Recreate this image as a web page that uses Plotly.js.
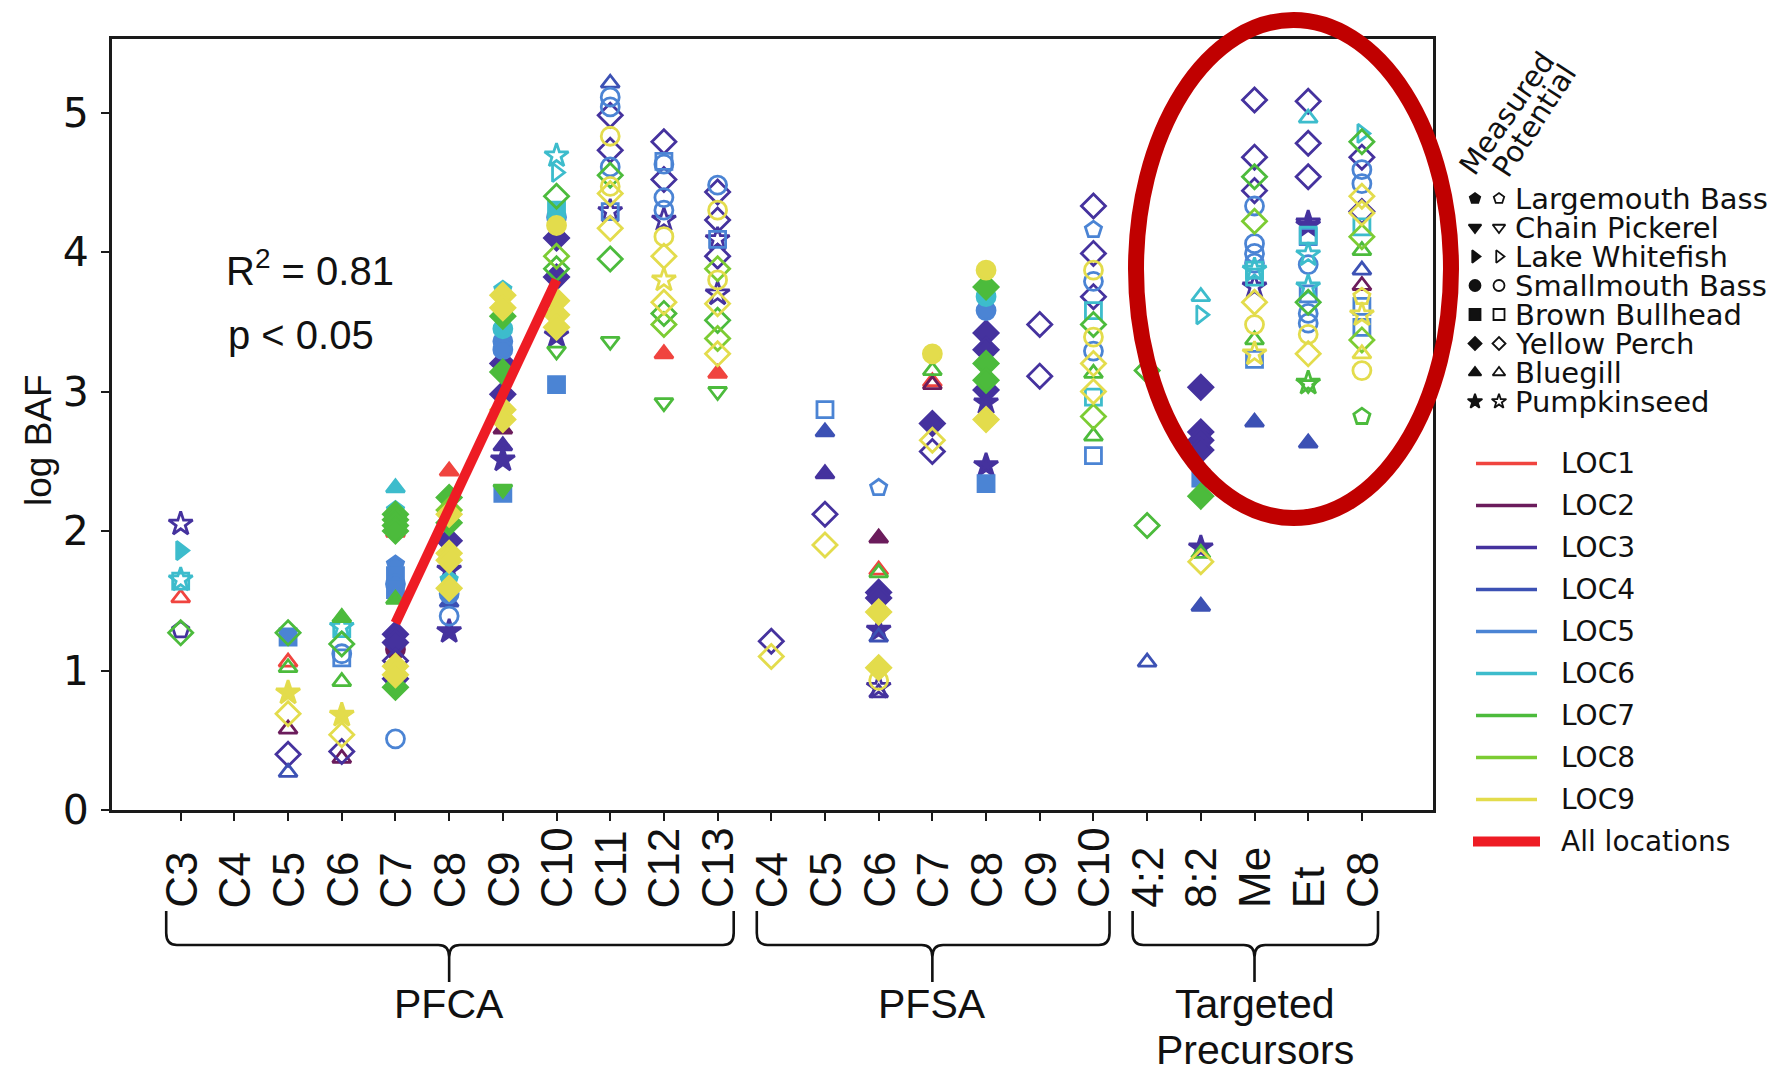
<!DOCTYPE html>
<html>
<head>
<meta charset="utf-8">
<script src="https://cdn.plot.ly/plotly-3.0.1.min.js"></script>
<style>html,body{margin:0;padding:0;background:#fff}#chart{width:1778px;height:1074px}</style>
</head>
<body>
<div id="chart"></div>
<script>
// ---------------- DATA ----------------
const categories = ['CA3','CA4','CA5','CA6','CA7','CA8','CA9','CA10','CA11','CA12','CA13',
                    'SA4','SA5','SA6','SA7','SA8','SA9','SA10',
                    'P42','P82','PMe','PEt','PC8'];
const tickLabels = ['C3','C4','C5','C6','C7','C8','C9','C10','C11','C12','C13',
                    'C4','C5','C6','C7','C8','C9','C10',
                    '4:2','8:2','Me','Et','C8'];
const groupNames = ['PFCA','PFSA','Targeted|Precursors'];
const groupFirst = ['CA3','SA4','P42'];
const groupLast  = ['CA13','SA10','PC8'];

const speciesCodes = ['LB','CP','LW','SB','BB','YP','BG','PS'];
const speciesNames = ['Largemouth Bass','Chain Pickerel','Lake Whitefish','Smallmouth Bass',
                      'Brown Bullhead','Yellow Perch','Bluegill','Pumpkinseed'];

const locationNames = ['LOC1','LOC2','LOC3','LOC4','LOC5','LOC6','LOC7','LOC8','LOC9'];
const locationColors = ['#f0443f','#6b1c5c','#45329e','#3c51b4','#4b84d4','#3dbccc','#4cbb3c','#7ccc33','#e3dc4c'];

// points: [category, log BAF, species, m = measured / p = potential]
const LOC1 = [
  ['CA3',1.52,'BG','p'],['CA5',1.06,'BG','p'],['CA7',1.99,'BG','m'],['CA8',2.43,'BG','m'],
  ['CA12',3.27,'BG','m'],['CA13',3.13,'BG','m'],['SA6',1.72,'BG','p'],['SA7',3.07,'BG','p']
];
const LOC2 = [
  ['CA5',0.58,'BG','p'],['CA6',0.37,'BG','p'],['CA7',1.15,'SB','m'],['CA9',2.73,'BG','m'],
  ['SA6',1.95,'BG','m'],['SA7',3.05,'BG','p'],['PC8',3.76,'BG','p']
];
const LOC3 = [
  ['CA3',2.05,'PS','p'],['CA3',1.29,'LB','p'],['CA5',0.40,'YP','p'],['CA6',0.42,'YP','p'],
  ['CA7',1.26,'YP','m'],['CA7',1.20,'YP','m'],['CA7',1.07,'YP','p'],['CA7',0.94,'YP','m'],
  ['CA8',1.93,'YP','m'],['CA8',1.72,'PS','m'],['CA8',1.28,'PS','m'],
  ['CA9',3.20,'YP','m'],['CA9',2.98,'YP','m'],['CA9',2.61,'BG','m'],['CA9',2.51,'PS','m'],
  ['CA10',4.10,'YP','m'],['CA10',3.82,'YP','m'],['CA10',3.40,'PS','m'],
  ['CA11',4.98,'YP','p'],['CA11',4.73,'YP','p'],['CA11',4.29,'PS','p'],
  ['CA12',4.79,'YP','p'],['CA12',4.52,'YP','p'],['CA12',4.23,'PS','p'],
  ['CA13',4.43,'YP','p'],['CA13',4.23,'YP','p'],['CA13',3.97,'YP','p'],['CA13',4.09,'PS','p'],['CA13',3.70,'PS','p'],
  ['SA4',1.21,'YP','p'],['SA5',2.41,'BG','m'],['SA5',2.12,'YP','p'],
  ['SA6',1.56,'YP','m'],['SA6',1.52,'YP','m'],['SA6',1.29,'PS','m'],['SA6',0.88,'PS','p'],['SA6',0.84,'BG','p'],
  ['SA7',2.77,'YP','m'],['SA7',2.57,'YP','p'],
  ['SA8',3.42,'YP','m'],['SA8',3.30,'YP','m'],['SA8',3.01,'YP','m'],['SA8',2.92,'PS','m'],['SA8',2.47,'PS','m'],
  ['SA9',3.48,'YP','p'],['SA9',3.11,'YP','p'],
  ['SA10',4.33,'YP','p'],['SA10',3.99,'YP','p'],['SA10',3.68,'YP','p'],
  ['P82',3.03,'YP','m'],['P82',2.71,'YP','m'],['P82',2.65,'YP','m'],['P82',2.58,'YP','m'],['P82',1.88,'PS','m'],
  ['PMe',5.09,'YP','p'],['PMe',4.68,'YP','p'],['PMe',4.44,'YP','p'],['PMe',3.75,'PS','p'],
  ['PEt',5.08,'YP','p'],['PEt',4.78,'YP','p'],['PEt',4.54,'YP','p'],['PEt',4.21,'PS','p'],['PEt',4.19,'PS','m'],
  ['PC8',4.68,'YP','p'],['PC8',4.29,'YP','p']
];
const LOC4 = [
  ['CA5',0.27,'BG','p'],['CA8',1.49,'BG','m'],['CA11',5.21,'BG','p'],['SA5',2.71,'BG','m'],
  ['SA6',1.24,'BG','p'],['P42',1.06,'BG','p'],['P82',1.46,'BG','m'],['PMe',2.78,'BG','m'],
  ['PEt',2.63,'BG','m'],['PC8',3.87,'BG','p']
];
const LOC5 = [
  ['CA5',1.24,'BB','m'],['CA6',1.09,'BB','p'],['CA6',1.12,'SB','p'],
  ['CA7',1.76,'LB','m'],['CA7',1.68,'BB','m'],['CA7',1.62,'SB','m'],['CA7',1.58,'BB','m'],['CA7',0.51,'SB','p'],
  ['CA8',1.55,'SB','m'],['CA8',1.39,'SB','p'],
  ['CA9',3.36,'SB','m'],['CA9',3.30,'SB','m'],['CA9',2.27,'BB','m'],
  ['CA10',4.25,'SB','m'],['CA10',3.05,'BB','m'],
  ['CA11',5.11,'SB','p'],['CA11',5.04,'SB','p'],['CA11',4.61,'SB','p'],['CA11',4.29,'BB','p'],
  ['CA12',4.65,'BB','p'],['CA12',4.63,'SB','p'],['CA12',4.39,'SB','p'],['CA12',4.30,'SB','p'],
  ['CA13',4.48,'SB','p'],['CA13',4.09,'BB','p'],
  ['SA5',2.87,'BB','p'],['SA6',2.31,'LB','p'],['SA8',3.58,'SB','m'],['SA8',2.34,'BB','m'],
  ['SA10',4.16,'LB','p'],['SA10',3.79,'SB','p'],['SA10',3.29,'SB','p'],['SA10',2.54,'BB','p'],
  ['P82',2.38,'BB','m'],
  ['PMe',4.33,'SB','p'],['PMe',4.06,'SB','p'],['PMe',3.99,'SB','p'],['PMe',3.92,'SB','p'],['PMe',3.23,'BB','p'],
  ['PEt',4.11,'BB','p'],['PEt',3.91,'SB','p'],['PEt',3.70,'BB','p'],['PEt',3.56,'SB','p'],['PEt',3.49,'SB','p'],
  ['PC8',4.59,'SB','p'],['PC8',4.49,'SB','p'],['PC8',3.61,'BB','p'],['PC8',3.46,'BB','p']
];
const LOC6 = [
  ['CA3',1.86,'LW','m'],['CA3',1.64,'BB','p'],['CA3',1.65,'PS','p'],
  ['CA6',1.30,'BB','p'],['CA6',1.31,'PS','p'],
  ['CA7',2.31,'BG','m'],['CA7',2.15,'LB','m'],['CA8',1.65,'LB','m'],
  ['CA9',3.73,'LB','m'],['CA9',3.45,'SB','m'],
  ['CA10',4.69,'PS','p'],['CA10',4.57,'LW','p'],['CA10',4.30,'BB','m'],
  ['SA8',3.68,'SB','m'],['SA10',3.58,'BB','p'],['SA10',2.96,'BB','p'],
  ['P82',3.68,'BG','p'],['P82',3.55,'LW','p'],
  ['PMe',3.87,'BB','p'],['PMe',3.87,'PS','p'],['PMe',3.82,'BB','p'],
  ['PEt',4.96,'BG','p'],['PEt',4.12,'BB','p'],['PEt',3.98,'PS','p'],['PEt',3.75,'PS','p'],
  ['PC8',4.85,'LW','p'],['PC8',4.18,'BB','p']
];
const LOC7 = [
  ['CA3',1.27,'YP','p'],['CA5',1.27,'YP','p'],['CA5',1.02,'BG','p'],
  ['CA6',1.38,'BG','m'],['CA6',1.19,'YP','p'],['CA6',0.92,'BG','p'],
  ['CA7',2.12,'YP','m'],['CA7',2.08,'YP','m'],['CA7',2.04,'YP','m'],['CA7',2.00,'YP','m'],['CA7',1.51,'BG','m'],['CA7',0.88,'YP','m'],
  ['CA8',2.24,'YP','m'],['CA8',2.06,'YP','m'],
  ['CA9',3.54,'YP','m'],['CA9',3.14,'YP','m'],['CA9',2.30,'CP','m'],
  ['CA10',4.40,'YP','p'],['CA10',3.88,'YP','p'],['CA10',3.29,'CP','p'],
  ['CA11',4.55,'YP','p'],['CA11',3.95,'YP','p'],['CA11',3.36,'CP','p'],
  ['CA12',3.56,'YP','p'],['CA12',2.92,'CP','p'],
  ['CA13',3.51,'YP','p'],['CA13',3.00,'CP','p'],
  ['SA6',1.70,'BG','p'],['SA7',3.15,'BG','p'],
  ['SA8',3.75,'YP','m'],['SA8',3.20,'YP','m'],['SA8',3.08,'YP','m'],
  ['SA10',3.48,'YP','p'],['SA10',3.13,'BG','p'],['SA10',2.68,'BG','p'],
  ['P42',2.04,'YP','p'],['P42',3.15,'YP','p'],
  ['P82',2.25,'YP','m'],['P82',1.84,'BG','p'],
  ['PMe',4.54,'YP','p'],['PMe',3.37,'BG','p'],
  ['PEt',3.64,'YP','p'],['PEt',3.06,'PS','p'],['PEt',3.05,'CP','p'],
  ['PC8',4.79,'YP','p'],['PC8',4.01,'BG','p'],['PC8',2.82,'LB','p']
];
const LOC8 = [
  ['CA8',2.15,'YP','m'],['CA10',3.97,'YP','p'],['CA12',3.48,'YP','p'],
  ['CA13',3.88,'YP','p'],['CA13',3.38,'YP','p'],['SA10',2.82,'YP','p'],
  ['PMe',4.22,'YP','p'],['PC8',4.11,'YP','p'],['PC8',3.37,'YP','p']
];
const LOC9 = [
  ['CA5',0.84,'PS','m'],['CA5',0.69,'YP','p'],['CA6',0.68,'PS','m'],['CA6',0.54,'YP','p'],
  ['CA7',1.03,'YP','m'],['CA7',0.97,'YP','m'],
  ['CA8',2.12,'YP','m'],['CA8',1.84,'YP','m'],['CA8',1.79,'YP','m'],['CA8',1.59,'YP','m'],
  ['CA9',3.69,'YP','m'],['CA9',3.60,'YP','m'],['CA9',2.87,'YP','m'],['CA9',2.80,'YP','m'],
  ['CA10',4.19,'SB','m'],['CA10',3.65,'YP','m'],['CA10',3.55,'YP','m'],['CA10',3.46,'YP','m'],
  ['CA11',4.83,'SB','p'],['CA11',4.47,'SB','p'],['CA11',4.42,'YP','p'],['CA11',4.17,'YP','p'],
  ['CA12',4.11,'SB','p'],['CA12',3.97,'YP','p'],['CA12',3.80,'PS','p'],['CA12',3.64,'YP','p'],
  ['CA13',4.30,'SB','p'],['CA13',3.80,'SB','p'],['CA13',3.63,'YP','p'],['CA13',3.27,'YP','p'],
  ['SA4',1.10,'YP','p'],['SA5',1.90,'YP','p'],
  ['SA6',1.42,'YP','m'],['SA6',1.02,'YP','m'],['SA6',0.93,'SB','p'],
  ['SA7',3.27,'SB','m'],['SA7',2.65,'YP','p'],
  ['SA8',3.87,'SB','m'],['SA8',2.80,'YP','m'],
  ['SA10',3.87,'SB','p'],['SA10',3.39,'SB','p'],['SA10',3.20,'YP','p'],['SA10',3.00,'YP','p'],
  ['P82',1.78,'YP','p'],
  ['PMe',3.64,'YP','p'],['PMe',3.48,'SB','p'],['PMe',3.27,'PS','p'],
  ['PEt',3.41,'SB','p'],['PEt',3.27,'YP','p'],
  ['PC8',4.40,'YP','p'],['PC8',4.28,'YP','p'],['PC8',3.68,'LB','p'],['PC8',3.55,'PS','p'],['PC8',3.27,'BG','p'],['PC8',3.15,'SB','p']
];
const locationData = [LOC1, LOC2, LOC3, LOC4, LOC5, LOC6, LOC7, LOC8, LOC9];

// regression over all locations (C7..C10 PFCA)
const fitCats = ['CA7','CA10'];
const fitVals = [1.34, 3.80];
const fitLabel = ['R<sup>2</sup> = 0.81', 'p < 0.05'];

// ---------------- LAYOUT CONSTANTS ----------------
const W = 1778, H = 1074;
const plotL = 111.7, plotR = 1433.3, plotT = 39, plotB = 810;
const xRange = [-1.285, 23.33], yRange = [0, 5.527];
const symbolOf = {LB:'pentagon', CP:'triangle-down', LW:'triangle-right', SB:'circle',
                  BB:'square', YP:'diamond', BG:'triangle-up', PS:'star'};
const sizeOf = {LB:17, CP:16, LW:16, SB:18, BB:16, YP:18.5, BG:16, PS:18};
const idx = c => categories.indexOf(c);
const symFor = (sp, mp) => symbolOf[sp] + (mp === 'p' ? '-open' : '');
const sansA = 'Liberation Sans, Arial, sans-serif';
const sansD = 'DejaVu Sans, sans-serif';

const traces = [];
locationData.forEach((pts, i) => {
  traces.push({
    type: 'scatter', mode: 'markers', xaxis: 'x', yaxis: 'y', showlegend: false,
    x: pts.map(p => idx(p[0])), y: pts.map(p => p[1]),
    marker: {
      symbol: pts.map(p => symFor(p[2], p[3])),
      size: pts.map(p => sizeOf[p[2]]), color: locationColors[i], opacity: 1,
      line: {color: locationColors[i], width: 2.8}
    },
    cliponaxis: false
  });
});
traces.push({
  type: 'scatter', mode: 'lines', xaxis: 'x', yaxis: 'y', showlegend: false,
  x: fitCats.map(idx), y: fitVals,
  line: {color: '#ee1c24', width: 10}
});

// legend panel (overlay axis in pixel units)
const spLegX1 = 1475, spLegX2 = 1499, spLegText = 1514, spLegY0 = 198.5, spLegStep = 29;
const locLegX0 = 1476, locLegX1 = 1537, locLegText = 1560, locLegY0 = 463.5, locLegStep = 42;
speciesCodes.forEach((sp, i) => {
  const yy = spLegY0 + i * spLegStep;
  traces.push({
    type: 'scatter', mode: 'markers', xaxis: 'x2', yaxis: 'y2', showlegend: false,
    x: [spLegX1, spLegX2], y: [yy, yy],
    marker: {symbol: [symFor(sp,'m'), symFor(sp,'p')], size: sp === 'YP' ? 10 : 11, opacity: 1,
             color: '#111', line: {color: '#111', width: 1.8}}
  });
});
locationNames.forEach((n, i) => {
  const yy = locLegY0 + i * locLegStep;
  traces.push({
    type: 'scatter', mode: 'lines', xaxis: 'x2', yaxis: 'y2', showlegend: false,
    x: [locLegX0, locLegX1], y: [yy, yy], line: {color: locationColors[i], width: 3.5}
  });
});
const allY = locLegY0 + locationNames.length * locLegStep;
traces.push({
  type: 'scatter', mode: 'lines', xaxis: 'x2', yaxis: 'y2', showlegend: false,
  x: [1473, 1540], y: [allY, allY], line: {color: '#ee1c24', width: 10}
});

// ---------------- ANNOTATIONS ----------------
const annotations = [];
tickLabels.forEach((t, i) => {
  annotations.push({x: i, xref: 'x', y: 909, yref: 'y2', text: t, textangle: -90,
    xanchor: 'center', yanchor: 'bottom', showarrow: false, borderpad: 0,
    font: {family: sansA, size: 44, color: '#111'}});
});
groupNames.forEach((g, i) => {
  const xc = (idx(groupFirst[i]) + idx(groupLast[i])) / 2;
  const lines = g.split('|');
  lines.forEach((ln, k) => {
    annotations.push({x: xc, xref: 'x', y: 1004 + k * 46, yref: 'y2', text: ln,
      xanchor: 'center', yanchor: 'middle', showarrow: false, borderpad: 0,
      font: {family: sansA, size: 41, color: '#111'}});
  });
});
annotations.push({x: 38, xref: 'x2', y: 440, yref: 'y2', text: 'log BAF', textangle: -90,
  xanchor: 'center', yanchor: 'middle', showarrow: false, font: {family: sansA, size: 37, color: '#111'}});
annotations.push({x: 224, xref: 'x2', y: 268, yref: 'y2', text: fitLabel[0],
  xanchor: 'left', yanchor: 'middle', showarrow: false, font: {family: sansA, size: 40, color: '#111'}});
annotations.push({x: 226, xref: 'x2', y: 335, yref: 'y2', text: fitLabel[1],
  xanchor: 'left', yanchor: 'middle', showarrow: false, font: {family: sansA, size: 40, color: '#111'}});
annotations.push({x: 1507, xref: 'x2', y: 113, yref: 'y2', text: 'Measured', textangle: -55,
  xanchor: 'center', yanchor: 'middle', showarrow: false, font: {family: sansD, size: 29, color: '#111'}});
annotations.push({x: 1534, xref: 'x2', y: 121, yref: 'y2', text: 'Potential', textangle: -57,
  xanchor: 'center', yanchor: 'middle', showarrow: false, font: {family: sansD, size: 29, color: '#111'}});
speciesNames.forEach((n, i) => {
  annotations.push({x: spLegText, xref: 'x2', y: spLegY0 + i * spLegStep, yref: 'y2', text: n,
    xanchor: 'left', yanchor: 'middle', showarrow: false, borderpad: 0,
    font: {family: sansD, size: 29, color: '#111'}});
});
locationNames.concat(['All locations']).forEach((n, i) => {
  annotations.push({x: locLegText, xref: 'x2', y: locLegY0 + i * locLegStep, yref: 'y2', text: n,
    xanchor: 'left', yanchor: 'middle', showarrow: false, borderpad: 0,
    font: {family: sansD, size: 28, color: '#111'}});
});

// ---------------- SHAPES ----------------
const shapes = [];
const yTop = 911, yMid = 945, yTip = 982, rr = 12, dd = 0.2;
groupNames.forEach((g, i) => {
  const x0 = idx(groupFirst[i]) - 0.27, x1 = idx(groupLast[i]) + 0.3;
  const xc = (idx(groupFirst[i]) + idx(groupLast[i])) / 2;
  const p = `M ${x0},${yTop} L ${x0},${yMid - rr} Q ${x0},${yMid} ${x0 + dd},${yMid} ` +
            `L ${xc - dd},${yMid} Q ${xc},${yMid} ${xc},${yMid + rr} L ${xc},${yTip} ` +
            `M ${xc},${yMid + rr} Q ${xc},${yMid} ${xc + dd},${yMid} ` +
            `L ${x1 - dd},${yMid} Q ${x1},${yMid} ${x1},${yMid - rr} L ${x1},${yTop}`;
  shapes.push({type: 'path', xref: 'x', yref: 'y2', path: p, line: {color: '#111', width: 2.6}});
});
shapes.push({type: 'circle', xref: 'x2', yref: 'y2', x0: 1136, x1: 1451, y0: 20, y1: 518,
  line: {color: '#c00000', width: 16}, layer: 'above'});

const layout = {
  width: W, height: H,
  margin: {l: 0, r: 0, t: 0, b: 0},
  paper_bgcolor: '#ffffff', plot_bgcolor: 'rgba(0,0,0,0)',
  showlegend: false,
  font: {family: sansD, color: '#111'},
  xaxis: {
    domain: [plotL / W, plotR / W], range: xRange, anchor: 'y',
    tickmode: 'array', tickvals: categories.map((c, i) => i), showticklabels: false,
    ticks: 'outside', ticklen: 8, tickwidth: 2, tickcolor: '#1a1a1a',
    showline: true, linewidth: 2.6, linecolor: '#1a1a1a', mirror: true,
    showgrid: false, zeroline: false, fixedrange: true
  },
  yaxis: {
    domain: [1 - plotB / H, 1 - plotT / H], range: yRange, anchor: 'x',
    tickmode: 'array', tickvals: [0, 1, 2, 3, 4, 5],
    ticks: 'outside', ticklen: 8, tickwidth: 2, tickcolor: '#1a1a1a',
    tickfont: {family: sansD, size: 41, color: '#111'}, ticklabelstandoff: 4,
    showline: true, linewidth: 2.6, linecolor: '#1a1a1a', mirror: true,
    showgrid: false, zeroline: false, fixedrange: true
  },
  xaxis2: {domain: [0, 1], range: [0, W], anchor: 'y2', visible: false, fixedrange: true},
  yaxis2: {domain: [0, 1], range: [H, 0], anchor: 'x2', visible: false, fixedrange: true},
  annotations: annotations,
  shapes: shapes
};

Plotly.newPlot('chart', traces, layout, {staticPlot: true, displayModeBar: false});
</script>
</body>
</html>
